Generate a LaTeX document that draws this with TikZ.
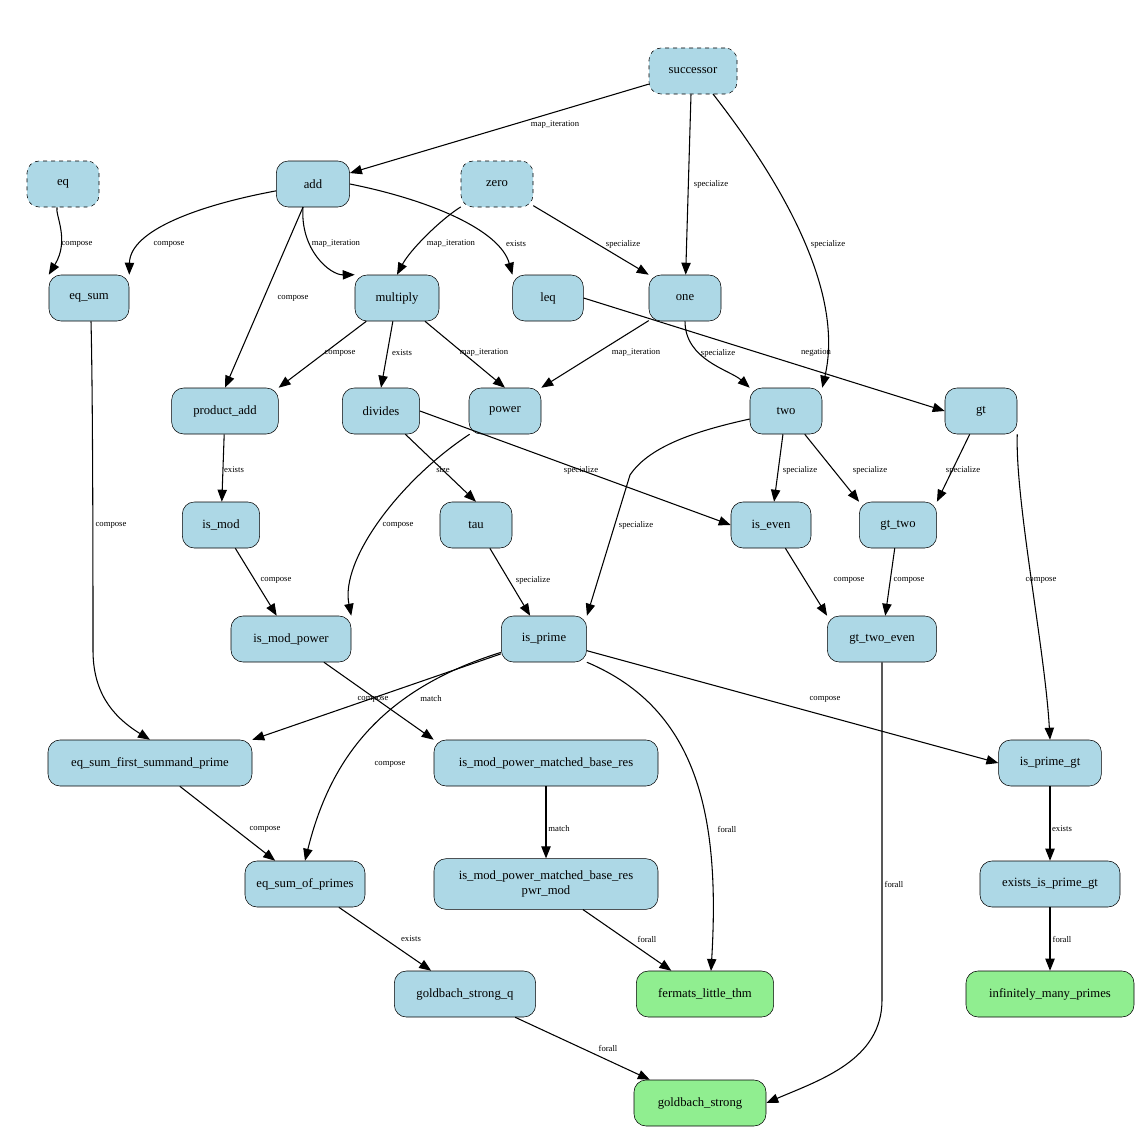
\documentclass[tikz,border=0pt]{standalone}
\usepackage{fontspec}
\setmainfont{Liberation Serif}
\usetikzlibrary{arrows.meta}
\begin{document}
\begin{tikzpicture}[x=0.75pt,y=-0.75pt,
 n/.style={draw,rounded corners=9pt,fill=cyan!10!blue!5!lightblue,minimum height=34.5pt,inner sep=2pt,font=\fontsize{9.5}{11}\selectfont,align=center},
 g/.style={n,fill=green!45!white!80!lime},
 d/.style={dashed},
 e/.style={-{Triangle[length=9pt,width=7pt]},thick},
 l/.style={font=\fontsize{6.5}{7}\selectfont}]
\definecolor{lightblue}{RGB}{173,216,230}
\definecolor{lgreen}{RGB}{144,238,144}
\tikzset{n/.append style={fill=lightblue},g/.append style={fill=lgreen}}
\useasboundingbox (0,0) rectangle (1138,1131);
\node[n,d,minimum width=66pt] (successor) at (693,71) {successor};
\node[n,d,minimum width=54pt] (eq) at (63,184) {eq};
\node[n,minimum width=55pt] (add) at (313,184) {add};
\node[n,d,minimum width=54pt] (zero) at (497,184) {zero};
\node[n,minimum width=60pt] (eqsum) at (89,298) {eq\_sum};
\node[n,minimum width=63pt] (multiply) at (397,298) {multiply};
\node[n,minimum width=53pt] (leq) at (548,298) {leq};
\node[n,minimum width=54pt] (one) at (685,298) {one};
\node[n,minimum width=80pt] (padd) at (225,411) {product\_add};
\node[n,minimum width=58pt] (divides) at (381,411) {divides};
\node[n,minimum width=54pt] (power) at (505,411) {power};
\node[n,minimum width=54pt] (two) at (786,411) {two};
\node[n,minimum width=54pt] (gt) at (981,411) {gt};
\node[n,minimum width=58pt] (ismod) at (221,525) {is\_mod};
\node[n,minimum width=54pt] (tau) at (476,525) {tau};
\node[n,minimum width=60pt] (iseven) at (771,525) {is\_even};
\node[n,minimum width=58pt] (gttwo) at (898,525) {gt\_two};
\node[n,minimum width=90pt] (ismp) at (291,639) {is\_mod\_power};
\node[n,minimum width=64pt] (isprime) at (544,639) {is\_prime};
\node[n,minimum width=82pt] (gte) at (882,639) {gt\_two\_even};
\node[n,minimum width=153pt] (esf) at (150,763) {eq\_sum\_first\_summand\_prime};
\node[n,minimum width=168pt] (mbr) at (546,763) {is\_mod\_power\_matched\_base\_res};
\node[n,minimum width=77pt] (ipg) at (1050,763) {is\_prime\_gt};
\node[n,minimum width=90pt] (esp) at (305,884) {eq\_sum\_of\_primes};
\node[n,minimum width=168pt,minimum height=38pt] (pwr) at (546,884) {is\_mod\_power\_matched\_base\_res\\pwr\_mod};
\node[n,minimum width=105pt] (eipg) at (1050,884) {exists\_is\_prime\_gt};
\node[n,minimum width=106pt] (gsq) at (465,994) {goldbach\_strong\_q};
\node[g,minimum width=103pt] (flt) at (705,994) {fermats\_little\_thm};
\node[g,minimum width=126pt] (imp) at (1050,994) {infinitely\_many\_primes};
\node[g,minimum width=99pt] (gs) at (700,1103) {goldbach\_strong};

\draw[e] (successor) -- (add); \node[l] at (555,125) {map\_iteration};
\draw[e] (successor.south) ++(-2,0) -- (one); \node[l] at (711,184) {specialize};
\draw[e] (713,94) .. controls (780,180) and (845,290) .. (two.north east); \node[l] at (828,244) {specialize};
\draw[e] (eq) .. controls (55,215) and (70,240) .. (eqsum.north west); \node[l] at (77,244) {compose};
\draw[e] (add) .. controls (200,205) and (130,230) .. (eqsum.north east); \node[l] at (169,244) {compose};
\draw[e] (303,207) .. controls (300,250) and (330,275) .. (multiply.north west); \node[l] at (336,244) {map\_iteration};
\draw[e] (add.east) .. controls (430,200) and (500,230) .. (leq.north west); \node[l] at (516,244) {exists};
\draw[e] (add) -- (padd.north); \node[l] at (293,298) {compose};
\draw[e] (zero) .. controls (440,220) and (410,250) .. (multiply.north); \node[l] at (451,244) {map\_iteration};
\draw[e] (zero) -- (one.north west); \node[l] at (623,244) {specialize};
\draw[e] (multiply) -- (padd.north east); \node[l] at (340,353) {compose};
\draw[e] (multiply) -- (divides.north); \node[l] at (402,353) {exists};
\draw[e] (multiply) -- (power.north); \node[l] at (484,353) {map\_iteration};
\draw[e] (leq.east) -- (gt.west); \node[l] at (816,353) {negation};
\draw[e] (one) -- (power.north east); \node[l] at (636,353) {map\_iteration};
\draw[e] (one.south) .. controls (685,360) and (730,370) .. (two.north west); \node[l] at (718,353) {specialize};
\draw[e] (padd) -- (ismod); \node[l] at (234,470) {exists};
\draw[e] (divides) -- (tau.north); \node[l] at (443,470) {size};
\draw[e] (divides.east) -- (iseven.west); \node[l] at (581,470) {specialize};
\draw[e] (power) .. controls (400,480) and (340,560) .. (ismp.north east); \node[l] at (398,525) {compose};
\draw[e] (two) .. controls (700,430) and (650,445) .. (630,475) -- (isprime.north east); \node[l] at (636,525) {specialize};
\draw[e] (two) -- (iseven); \node[l] at (800,470) {specialize};
\draw[e] (two) -- (gttwo.north west); \node[l] at (870,470) {specialize};
\draw[e] (gt) -- (gttwo.north east); \node[l] at (963,470) {specialize};
\draw[e] (gt.south east) .. controls (1015,500) and (1045,650) .. (ipg.north); \node[l] at (1041,580) {compose};
\draw[e] (ismod) -- (ismp); \node[l] at (276,580) {compose};
\draw[e] (tau) -- (isprime); \node[l] at (533,580) {specialize};
\draw[e] (iseven) -- (gte.north west); \node[l] at (849,580) {compose};
\draw[e] (gttwo) -- (gte); \node[l] at (909,580) {compose};
\draw[e] (eqsum.south) ++(2,0) .. controls (93,400) and (93,600) .. (93,650) .. controls (93,690) and (110,715) .. (esf.north); \node[l] at (111,525) {compose};
\draw[e] (isprime) -- (esf.north east); \node[l] at (373,699) {compose};
\draw[e] (ismp) -- (mbr.north west); \node[l] at (431,699) {match};
\draw[e] (isprime) -- (ipg.west); \node[l] at (825,699) {compose};
\draw[e] (isprime) .. controls (380,690) and (330,760) .. (esp.north); \node[l] at (390,764) {compose};
\draw[e] (isprime.south east) .. controls (700,710) and (720,820) .. (711,971); \node[l] at (727,829) {forall};
\draw[e] (gte) -- (882,1000) .. controls (882,1060) and (820,1080) .. (gs.east); \node[l] at (894,884) {forall};
\draw[e] (esf) -- (esp); \node[l] at (265,829) {compose};
\draw[e] (mbr) -- (pwr); \node[l] at (559,829) {match};
\draw[e] (ipg) -- (eipg); \node[l] at (1062,829) {exists};
\draw[e] (esp) -- (gsq); \node[l] at (411,939) {exists};
\draw[e] (pwr) -- (flt); \node[l] at (647,939) {forall};
\draw[e] (eipg) -- (imp); \node[l] at (1062,939) {forall};
\draw[e] (gsq) -- (gs); \node[l] at (608,1048) {forall};
\end{tikzpicture}
\end{document}
